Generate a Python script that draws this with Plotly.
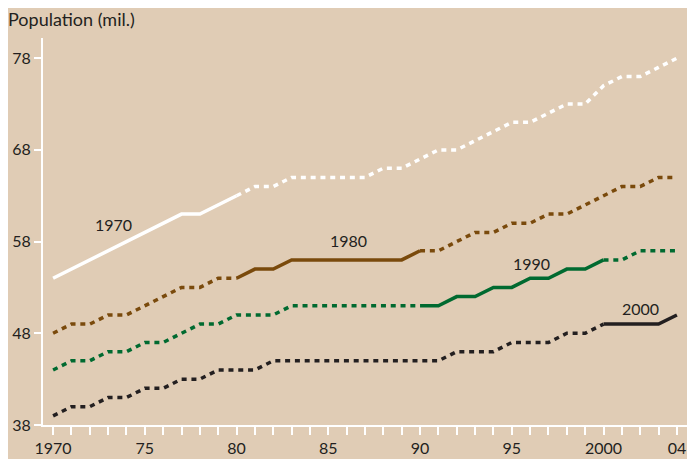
import plotly.graph_objects as go

years = list(range(1970, 2005))

s1970 = [54, 55, 56, 57, 58, 59, 60, 61, 61, 62,
         63, 64, 64, 65, 65, 65, 65, 65, 66, 66,
         67, 68, 68, 69, 70, 71, 71, 72, 73, 73,
         75, 76, 76, 77, 78]
s1980 = [48, 49, 49, 50, 50, 51, 52, 53, 53, 54,
         54, 55, 55, 56, 56, 56, 56, 56, 56, 56,
         57, 57, 58, 59, 59, 60, 60, 61, 61, 62,
         63, 64, 64, 65, 65]
s1990 = [44, 45, 45, 46, 46, 47, 47, 48, 49, 49,
         50, 50, 50, 51, 51, 51, 51, 51, 51, 51,
         51, 51, 52, 52, 53, 53, 54, 54, 55, 55,
         56, 56, 57, 57, 57]
s2000 = [39, 40, 40, 41, 41, 42, 42, 43, 43, 44,
         44, 44, 45, 45, 45, 45, 45, 45, 45, 45,
         45, 45, 46, 46, 46, 47, 47, 47, 48, 48,
         49, 49, 49, 49, 50]

series_names = ["1970", "1980", "1990", "2000"]
series_values = [s1970, s1980, s1990, s2000]
series_start = [1970, 1980, 1990, 2000]
series_end = [1980, 1990, 2000, 2004]
series_colors = ["#FFFFFF", "#7A4A0C", "#006A30", "#231F20"]
label_x = [1973.28, 1986.08, 1996.06, 2002.0]
label_y = [59.9, 58.1, 55.6, 50.75]

y_ticks = [38, 48, 58, 68, 78]
x_tickvals = [1970, 1975, 1980, 1985, 1990, 1995, 2000, 2004]
x_ticktext = ["1970", "75", "80", "85", "90", "95", "2000", "04"]

BG = "#E0CCB5"
TXT = "#231F20"
FONT = "Lato"
FS = 16

fig = go.Figure()

for name, vals, s, e, col in zip(series_names, series_values, series_start, series_end, series_colors):
    i0 = years.index(s)
    i1 = years.index(e)
    if i0 > 0:
        fig.add_trace(go.Scatter(x=years[:i0 + 1], y=vals[:i0 + 1], mode="lines",
                                 line=dict(color=col, width=3.5, dash="5px,4.8px"),
                                 showlegend=False, hoverinfo="skip"))
    if i1 < len(years) - 1:
        fig.add_trace(go.Scatter(x=years[i1:], y=vals[i1:], mode="lines",
                                 line=dict(color=col, width=3.5, dash="5px,4.8px"),
                                 showlegend=False, hoverinfo="skip"))
    fig.add_trace(go.Scatter(x=years[i0:i1 + 1], y=vals[i0:i1 + 1], mode="lines",
                             line=dict(color=col, width=3.5),
                             showlegend=False, name=name))

for name, lx, ly in zip(series_names, label_x, label_y):
    fig.add_annotation(x=lx, y=ly, text=name, showarrow=False,
                       font=dict(family=FONT, size=FS, color=TXT),
                       xanchor="center", yanchor="middle")

fig.add_annotation(xref="paper", yref="paper", x=-0.057, y=1.048,
                   text="Population (mil.)", showarrow=False,
                   font=dict(family=FONT, size=18, color=TXT),
                   xanchor="left", yanchor="middle")

fig.update_layout(
    width=695, height=459,
    margin=dict(l=35, r=16, t=30, b=42, autoexpand=False),
    paper_bgcolor=BG, plot_bgcolor=BG,
    font=dict(family=FONT, size=FS, color=TXT),
    xaxis=dict(range=[1969.45, 2004.55], tickvals=x_tickvals, ticktext=x_ticktext,
               automargin=False,
               showgrid=False, zeroline=False, showline=True, linecolor="white", linewidth=2,
               ticks="outside", ticklen=8, tickwidth=1.5, tickcolor="white",
               minor=dict(dtick=1, tick0=1970, ticks="outside", ticklen=8, tickwidth=1.5,
                          tickcolor="white", showgrid=False),
               tickfont=dict(family=FONT, size=FS, color=TXT)),
    yaxis=dict(range=[38, 80.2], tickvals=y_ticks, showgrid=False, zeroline=False,
               automargin=False,
               showline=True, linecolor="white", linewidth=2,
               ticks="outside", ticklen=7, tickwidth=1.5, tickcolor="white",
               tickfont=dict(family=FONT, size=FS, color=TXT)),
)

fig.write_html("out.html")
